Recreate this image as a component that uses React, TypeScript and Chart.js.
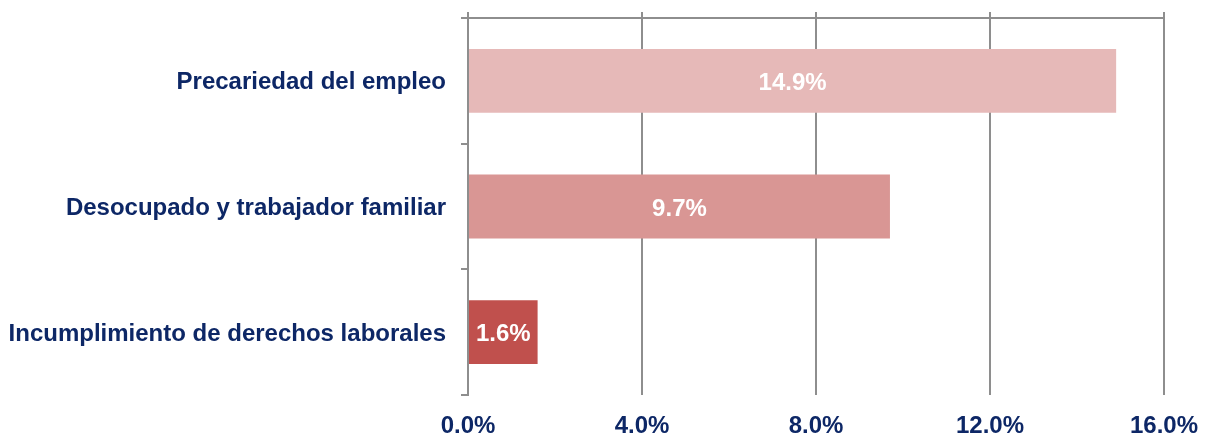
import React, { useEffect, useRef } from "react";
import { Chart, registerables } from "chart.js";

Chart.register(...registerables);

const categories = [
  "Precariedad del empleo",
  "Desocupado y trabajador familiar",
  "Incumplimiento de derechos laborales",
];
const values = [14.9, 9.7, 1.6];
const barColors = ["#E6B9B8", "#D99694", "#C0504D"];
const xMin = 0;
const xMax = 16;
const xStep = 4;

const NAVY = "#0D2766";
const GRID = "#8E8E8E";
const FONT = "'Liberation Sans', Arial, sans-serif";

const valueLabels = {
  id: "valueLabels",
  afterDatasetsDraw(chart: any) {
    const ctx = chart.ctx;
    const meta = chart.getDatasetMeta(0);
    ctx.save();
    ctx.font = `bold 24px ${FONT}`;
    ctx.fillStyle = "#FFFFFF";
    ctx.textAlign = "center";
    ctx.textBaseline = "middle";
    meta.data.forEach((bar: any, i: number) => {
      const cx = (bar.x + bar.base) / 2;
      ctx.fillText(values[i].toFixed(1) + "%", cx, bar.y + 2.5);
    });
    ctx.restore();
  },
};

const zeroPad = (s: any) => {
  s.paddingTop = 0;
  s.paddingBottom = 0;
  s.paddingLeft = 0;
  s.paddingRight = 0;
};

export default function App() {
  const ref = useRef<HTMLCanvasElement>(null);
  useEffect(() => {
    if (!ref.current) return;
    const chart = new Chart(ref.current, {
      type: "bar",
      data: {
        labels: categories,
        datasets: [
          {
            data: values,
            backgroundColor: barColors,
            borderWidth: 0,
            barPercentage: 0.508,
            categoryPercentage: 1,
          },
        ],
      },
      plugins: [valueLabels],
      options: {
        indexAxis: "y",
        responsive: false,
        animation: false,
        layout: { padding: { top: 0, right: 45, bottom: 0, left: 0 } },
        plugins: { legend: { display: false }, tooltip: { enabled: false } },
        scales: {
          y: {
            position: "left",
            afterFit: (s: any) => {
              s.width = 468;
              zeroPad(s);
            },
            grid: {
              display: true,
              drawOnChartArea: false,
              drawTicks: true,
              tickLength: 7,
              color: GRID,
              lineWidth: 2,
              offset: true,
            },
            border: { display: true, color: GRID, width: 2 },
            ticks: {
              padding: 15,
              labelOffset: 2,
              color: NAVY,
              font: { family: FONT, size: 24, weight: "bold" },
            },
          },
          x: {
            position: "bottom",
            min: xMin,
            max: xMax,
            afterFit: (s: any) => {
              s.height = 42;
              zeroPad(s);
            },
            grid: {
              display: true,
              drawOnChartArea: true,
              drawTicks: false,
              color: GRID,
              lineWidth: 2,
            },
            border: { display: false },
            ticks: {
              stepSize: xStep,
              padding: 17,
              color: NAVY,
              font: { family: FONT, size: 24, weight: "bold" },
              callback: (v: any) => Number(v).toFixed(1) + "%",
            },
          },
          x2: {
            type: "linear",
            position: "top",
            axis: "x",
            min: xMin,
            max: xMax,
            afterFit: (s: any) => {
              s.height = 18;
              zeroPad(s);
            },
            grid: {
              display: true,
              drawOnChartArea: false,
              drawTicks: true,
              tickLength: 6,
              color: GRID,
              lineWidth: 2,
            },
            border: { display: true, color: GRID, width: 2 },
            ticks: { display: false, stepSize: xStep },
          },
        },
      } as any,
    });
    return () => chart.destroy();
  }, []);
  return (
    <div style={{ position: "fixed", left: 0, top: 0, width: 1209, height: 437, background: "#fff" }}>
      <canvas ref={ref} width={1209} height={437} />
    </div>
  );
}
